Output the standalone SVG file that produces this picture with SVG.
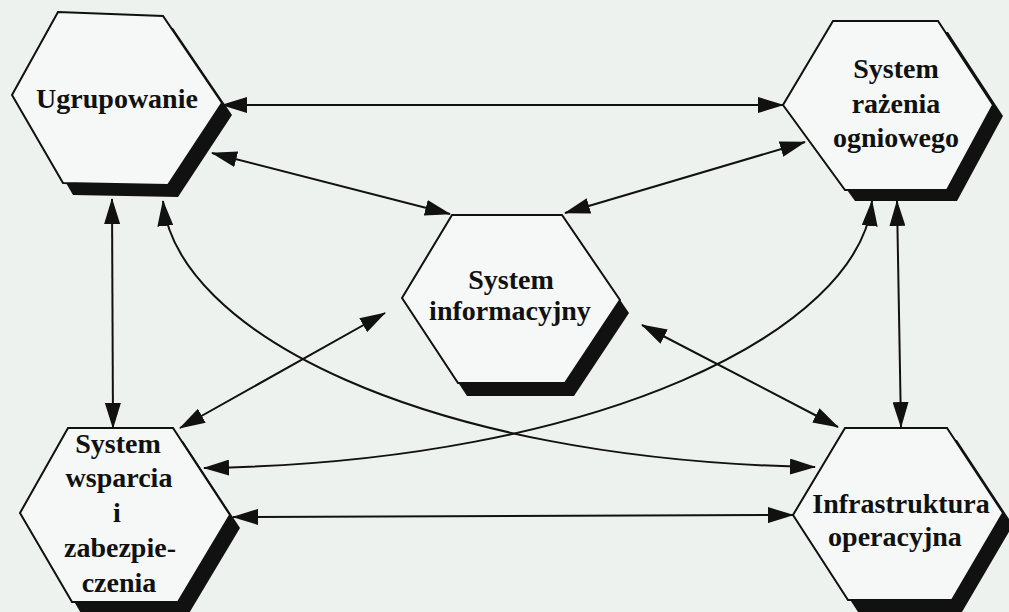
<svg xmlns="http://www.w3.org/2000/svg" width="1009" height="612" viewBox="0 0 1009 612">
<defs>
<marker id="ah" markerWidth="26" markerHeight="16" refX="25" refY="8" orient="auto-start-reverse" markerUnits="userSpaceOnUse">
<path d="M0,0 L26,8 L0,16 Z" fill="#111"/>
</marker>
</defs>
<style>
.hex{fill:#f5f8f6;stroke:#111;stroke-width:2;stroke-linejoin:miter}
.sh{fill:#111;stroke:none}
.lbl{font-family:"Liberation Serif","Times New Roman",serif;font-weight:bold;font-size:28px;fill:#111;text-anchor:middle}
.con{fill:none;stroke:#111;stroke-width:2;marker-start:url(#ah);marker-end:url(#ah)}
</style>
<rect x="0" y="0" width="1009" height="612" fill="#eef2ef"/>

<g id="connectors">
<path class="con" d="M222,105 L783,105"/>
<path class="con" d="M212,153 L450,214"/>
<path class="con" d="M805,142 L565,213"/>
<path class="con" d="M112,199 L113,428"/>
<path class="con" d="M163,201 C175,330 420,460 815,467"/>
<path class="con" d="M872,201 C860,330 600,462 204,468"/>
<path class="con" d="M897,201 L901,427"/>
<path class="con" d="M385,313 L180,428"/>
<path class="con" d="M642,325 L838,427"/>
<path class="con" d="M233,517 L793,515"/>
</g>

<g id="ugrupowanie">
<polygon class="sh" transform="translate(10,12)" points="58,12 163,16 222,103 168,185 63,183 12,95"/>
<polygon class="hex" points="58,12 163,16 222,103 168,185 63,183 12,95"/>
<text class="lbl" x="117" y="108">Ugrupowanie</text>
</g>

<g id="system-razenia">
<polygon class="sh" transform="translate(10,11)" points="833,21 938,21 993,105 947,190 845,190 783,105"/>
<polygon class="hex" points="833,21 938,21 993,105 947,190 845,190 783,105"/>
<text class="lbl" x="896" y="78">System</text>
<text class="lbl" x="896" y="113">rażenia</text>
<text class="lbl" x="896" y="147">ogniowego</text>
</g>

<g id="system-informacyjny">
<polygon class="sh" transform="translate(9,13)" points="452,215 562,215 620,300 565,383 458,383 402,298"/>
<polygon class="hex" points="452,215 562,215 620,300 565,383 458,383 402,298"/>
<text class="lbl" x="511" y="289">System</text>
<text class="lbl" x="510" y="320">informacyjny</text>
</g>

<g id="system-wsparcia">
<polygon class="sh" transform="translate(10,13)" points="68,428 173,428 230,515 178,602 72,602 20,513"/>
<polygon class="hex" points="68,428 173,428 230,515 178,602 72,602 20,513"/>
<text class="lbl" x="118" y="453">System</text>
<text class="lbl" x="119" y="487">wsparcia</text>
<text class="lbl" x="117" y="522">i</text>
<text class="lbl" x="120" y="557">zabezpie-</text>
<text class="lbl" x="119" y="592">czenia</text>
</g>

<g id="infrastruktura">
<polygon class="sh" transform="translate(10,12)" points="845,428 947,428 1003,513 952,600 848,600 793,515"/>
<polygon class="hex" points="845,428 947,428 1003,513 952,600 848,600 793,515"/>
<text class="lbl" x="901" y="513">Infrastruktura</text>
<text class="lbl" x="895" y="546">operacyjna</text>
</g>
</svg>
